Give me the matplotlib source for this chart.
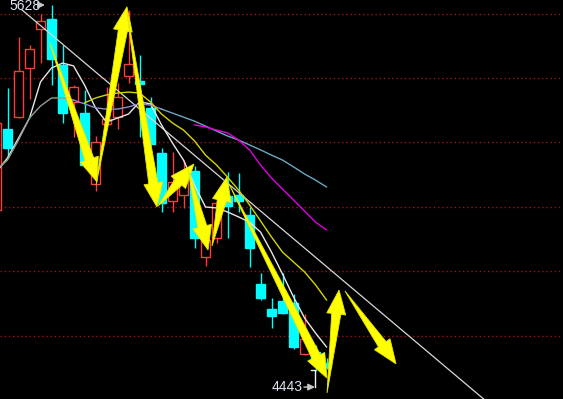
import numpy as np
import matplotlib.pyplot as plt
from matplotlib.patches import Polygon
from matplotlib.transforms import IdentityTransform

# candles, index 0..30 (0 is only partly visible at left edge)
opens  = [4964, 5226, 5265, 5424, 5550, 5583, 5434, 5314, 5278, 5048, 5243, 5265, 5398, 5382, 5295, 5149,
          4993, 5013, 5091, 4812, 4874, 5010, 5013, 4948, 4725, 4644, 4670, 4663, 4498, 4504, 4469]
highs  = [5256, 5359, 5524, 5498, 5599, 5628, 5498, 5369, 5353, 5204, 5363, 5375, 5612, 5466, 5330, 5165,
          5152, 5126, 5107, 4916, 5019, 5087, 5084, 4974, 4760, 4679, 4760, 4692, 4628, 4527, 4485]
lows   = [4958, 5133, 5262, 5324, 5440, 5369, 5246, 5201, 5103, 5026, 5239, 5226, 5375, 5201, 5175, 4958,
          4958, 4971, 4841, 4783, 4857, 4874, 4958, 4780, 4673, 4582, 4628, 4514, 4495, 4443, 4450]
closes = [5246, 5165, 5414, 5486, 5576, 5453, 5278, 5363, 5110, 5184, 5259, 5330, 5437, 5372, 5178, 4987,
          5055, 5068, 4874, 4867, 4987, 4977, 4993, 4841, 4679, 4621, 4631, 4521, 4547, 4472, 4456]

# moving averages
ma5 = [5087, 5133, 5197, 5262, 5379, 5424, 5440, 5431, 5369, 5295, 5249, 5262, 5275, 5314, 5308, 5240,
       5181, 5126, 5045, 4974, 4971, 4958, 4942, 4925, 4893, 4828, 4757, 4683, 4615, 4566, 4521]
ma10 = [5094, 5126, 5191, 5262, 5301, 5327, 5327, 5320, 5308, 5295, 5291, 5291, 5298, 5308, 5304, 5291,
        5278, 5265, 5252, 5236, 5220, 5204, 5191, 5175, 5159, 5142, 5126, 5104, 5081, 5061, 5039]
ma20_start = 8
ma20 = [5311, 5327, 5337, 5343, 5346, 5343, 5314, 5275, 5246, 5223, 5188, 5142, 5110, 5071, 5029, 4981,
        4929, 4877, 4828, 4796, 4764, 4722, 4673]
ma60_start = 18
ma60 = [5240, 5233, 5223, 5214, 5191, 5159, 5110, 5068, 5032, 4997, 4961, 4925, 4900]

# trend line (two points)
trend_x = [2.32, 44.5]
trend_y = [5612, 4346]

grid_levels = [5599, 5392, 5184, 4974, 4767, 4556]

# yellow zigzag arrows: (x tail, y tail, x head, y head)
zig = [
    (4.86, 5505, 9.14, 5055),
    (9.05, 5045, 11.86, 5622),
    (11.86, 5605, 14.59, 4974),
    (14.68, 4977, 17.95, 5113),
    (17.41, 5097, 19.23, 4835),
    (19.59, 4848, 20.95, 5071),
    (21.14, 5048, 30.05, 4420),
    (30.05, 4372, 31.14, 4705),
    (31.68, 4702, 36.32, 4466),
]

hi_idx = int(np.argmax(highs))
lo_idx = int(np.argmin(lows))

fig = plt.figure(figsize=(5.63, 3.99), dpi=100, facecolor='black')
ax = fig.add_axes([0, 0, 1, 1])
ax.set_facecolor('black')
ax.set_xlim(0.318, 51.5)
ax.set_ylim(4352.4, 5644.2)
ax.axis('off')

for g in grid_levels:
    ax.axhline(g, color='#a01414', lw=1, ls=(0, (1, 2)), zorder=1)

RED = '#ff3c3c'
CYAN = '#00ffff'
x = np.arange(len(opens))
for i in x:
    o, h, l, c = opens[i], highs[i], lows[i], closes[i]
    col = RED if c > o else CYAN
    ax.vlines(i, l, h, color=col, lw=1, zorder=2)
    ax.bar(i, max(abs(c - o), 2), bottom=min(o, c), width=0.82,
           facecolor='black' if c > o else CYAN, edgecolor=col, lw=1, zorder=3)

ax.plot(trend_x, trend_y, color='#d8d8d8', lw=0.9, zorder=4)
ax.plot(x, ma5, color='#e8e8e8', lw=1, zorder=5)
ax.plot(x[:8], ma10[:8], color='#8e9e8e', lw=1, zorder=5)
ax.plot(x[7:16], ma10[7:16], color='#8c8ccc', lw=1, zorder=5)
ax.plot(x[15:], ma10[15:], color='#6aa8c4', lw=1, zorder=5)
ax.plot(np.arange(ma20_start, ma20_start + len(ma20)), ma20, color='#d4d400', lw=1, zorder=5)
ax.plot(np.arange(ma60_start, ma60_start + len(ma60)), ma60, color='#e000e0', lw=1, zorder=5)

# wedge arrows: pointed tail, widening shaft, triangle head (sizes in pixels)
head_len, head_half, shaft_half = 24, 9.5, 4.6
for x0, y0, x1, y1 in zig:
    t = ax.transData.transform((x0, y0))
    p = ax.transData.transform((x1, y1))
    u = (p - t) / np.hypot(*(p - t))
    n = np.array([-u[1], u[0]])
    b = p - u * head_len
    pts = [t, b + n * shaft_half, b + n * head_half, p, b - n * head_half, b - n * shaft_half]
    ax.add_patch(Polygon(pts, closed=True, fc='#ffff00', ec='#e8e800', lw=0.6,
                         transform=IdentityTransform(), zorder=6))

# high / low labels
lab = '#dde6f2'
ax.text(1.2, highs[hi_idx] - 4, f'{highs[hi_idx]}', color=lab, fontsize=10,
        family='Liberation Sans', ha='left', va='center', zorder=7)
ax.annotate('', xy=(hi_idx - 0.6, highs[hi_idx]), xytext=(3.8, highs[hi_idx]),
            arrowprops=dict(arrowstyle='-|>,head_length=0.4,head_width=0.2', color='#c8c8c8',
                            lw=1, shrinkA=0, shrinkB=0), zorder=7)

ylab = lows[lo_idx] - 52
ax.text(27.8, ylab, f'{lows[lo_idx]}', color=lab, fontsize=10,
        family='Liberation Sans', ha='right', va='center', zorder=7)
ax.annotate('', xy=(lo_idx - 0.05, ylab), xytext=(27.95, ylab),
            arrowprops=dict(arrowstyle='-|>,head_length=0.4,head_width=0.2', color='#c8c8c8',
                            lw=1, shrinkA=0, shrinkB=0), zorder=7)
ax.plot([lo_idx - 0.41, lo_idx - 0.05, lo_idx - 0.05], [lows[lo_idx] + 3, lows[lo_idx] + 3, ylab],
        color='#f0f0f0', lw=1, zorder=7)

fig.savefig('out.png', dpi=100, facecolor='black')
